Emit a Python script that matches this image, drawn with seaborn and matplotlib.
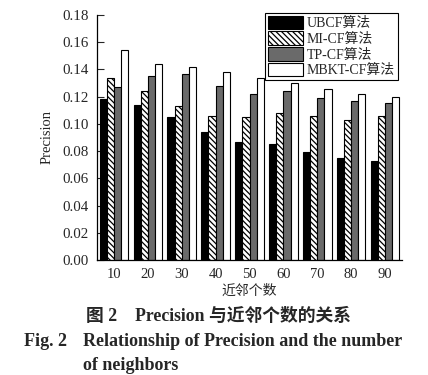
import numpy as np
import pandas as pd
import matplotlib
matplotlib.use("Agg")
import matplotlib.pyplot as plt
import seaborn as sns

# neighbour counts and precision of each algorithm
neighbors = ["10", "20", "30", "40", "50", "60", "70", "80", "90"]
algos = ["UBCF算法", "MI-CF算法", "TP-CF算法", "MBKT-CF算法"]
ubcf = [0.118, 0.114, 0.105, 0.094, 0.087, 0.085, 0.079, 0.075, 0.073]
micf = [0.134, 0.124, 0.113, 0.106, 0.105, 0.108, 0.106, 0.103, 0.106]
tpcf = [0.127, 0.135, 0.137, 0.128, 0.122, 0.124, 0.119, 0.117, 0.115]
mbkt = [0.154, 0.144, 0.142, 0.138, 0.134, 0.130, 0.126, 0.122, 0.120]
yticks = [0.00, 0.02, 0.04, 0.06, 0.08, 0.10, 0.12, 0.14, 0.16, 0.18]

rows = []
for a, vals in zip(algos, [ubcf, micf, tpcf, mbkt]):
    for n, v in zip(neighbors, vals):
        rows.append({"neighbors": n, "algo": a, "precision": v})
df = pd.DataFrame(rows)

sns.set_style("white")
plt.rcParams["font.family"] = ["Liberation Serif", "Noto Sans CJK SC"]
plt.rcParams["hatch.linewidth"] = 0.9

fig = plt.figure(figsize=(4.28, 3.75), dpi=100)
ax = fig.add_axes([97 / 428, 1 - 260 / 375, 305 / 428, 245 / 375])

colors = ["#000000", "#ffffff", "#6a6a6a", "#ffffff"]
sns.barplot(data=df, x="neighbors", y="precision", hue="algo", hue_order=algos,
            order=neighbors, palette=colors, width=0.84, edgecolor="black",
            linewidth=0.8, saturation=1, ax=ax)

# hatch the MI-CF bars
hatch = "\\\\\\\\\\\\"
for patch in ax.containers[1]:
    patch.set_hatch(hatch)

ax.set_ylim(0, 0.18)
ax.set_yticks(yticks)
ax.set_yticklabels([f"{t:.2f}" for t in yticks], fontsize=10.8)
ax.tick_params(axis="y", direction="in", length=5, width=0.8, left=True, pad=6)
ax.tick_params(axis="x", length=0, labelsize=10.5, pad=6)
for s in ["top", "right"]:
    ax.spines[s].set_visible(False)
for s in ["left", "bottom"]:
    ax.spines[s].set_linewidth(0.9)
    ax.spines[s].set_color("black")

ax.set_xlabel("近邻个数", fontsize=10, labelpad=2)
ax.set_ylabel("Precision", fontsize=10.5, labelpad=6)

leg = ax.legend(loc="upper right", bbox_to_anchor=(0.995, 1.02), fontsize=10,
                frameon=True, fancybox=False, edgecolor="black",
                handlelength=2.5, handleheight=1.1, handletextpad=0.3,
                labelspacing=0.1, borderpad=0.2, borderaxespad=0.2)
leg.get_frame().set_linewidth(0.8)
leg.get_frame().set_alpha(1)
for h in leg.legend_handles:
    h.set_edgecolor("black")
leg.legend_handles[1].set_hatch(hatch)

fig.text(218 / 428, 1 - 316 / 375, "图 2    Precision 与近邻个数的关系",
         ha="center", va="center", fontsize=12.8, fontweight="bold")
fig.text(24 / 428, 1 - 342 / 375, "Fig. 2", ha="left", va="center",
         fontsize=13, fontweight="bold")
fig.text(83 / 428, 1 - 342 / 375, "Relationship of Precision and the number",
         ha="left", va="center", fontsize=13, fontweight="bold")
fig.text(83 / 428, 1 - 366 / 375, "of neighbors", ha="left", va="center",
         fontsize=13, fontweight="bold")

fig.savefig("out.png", dpi=100)
